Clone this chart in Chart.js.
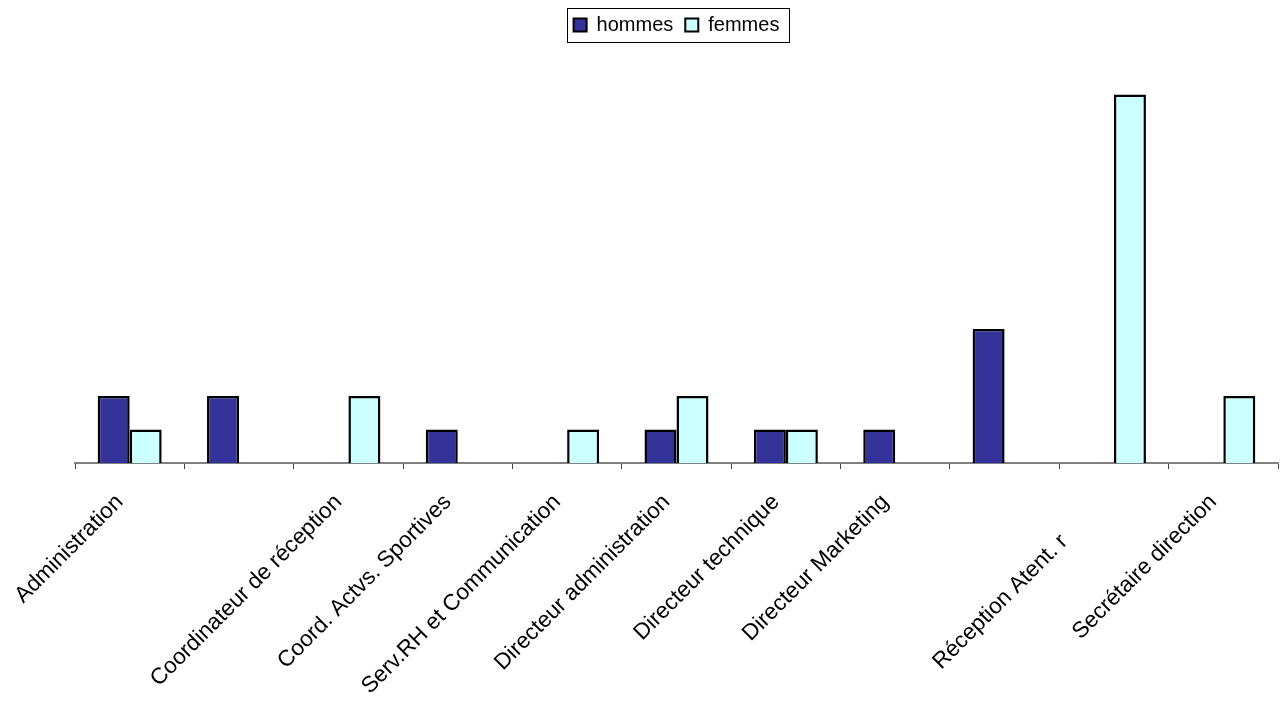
<!DOCTYPE html>
<html>
<head>
<meta charset="utf-8">
<script src="https://cdn.jsdelivr.net/npm/chart.js@4/dist/chart.umd.min.js"></script>
<style>
  html, body { margin: 0; padding: 0; background: #ffffff; }
  #wrap { width: 1287px; height: 702px; position: relative; }
</style>
</head>
<body>
<div id="wrap"><canvas id="chart"></canvas></div>
<script>
// Postes (catégories) et effectifs par sexe
const categories = [
  'Administration',
  '',
  'Coordinateur de réception',
  'Coord. Actvs. Sportives',
  'Serv.RH et Communication',
  'Directeur administration',
  'Directeur technique',
  'Directeur Marketing',
  '',
  'Réception Atent. r',
  'Secrétaire direction'
];
const hommes = [2, 2, 0, 1, 0, 1, 1, 1, 4, 0, 0];
const femmes = [1, 0, 2, 0, 1, 2, 1, 0, 0, 11, 2];
const seriesNames = ['hommes', 'femmes'];

const FONT = 'Liberation Sans, Arial, sans-serif';

// Cadre noir autour de la légende
const legendFrame = {
  id: 'legendFrame',
  afterDraw(chart) {
    const lg = chart.legend;
    if (!lg || !lg.legendHitBoxes || !lg.legendHitBoxes.length) return;
    const boxes = lg.legendHitBoxes;
    const first = boxes[0], last = boxes[boxes.length - 1];
    const ctx = chart.ctx;
    ctx.save();
    ctx.strokeStyle = '#000000';
    ctx.lineWidth = 1;
    const l = Math.round(first.left - 7) + 0.5;
    const r = Math.round(last.left + last.width + 10) + 0.5;
    const t = Math.round(first.top - 7) + 0.5;
    const b = Math.round(first.top + first.height + 7) + 0.5;
    ctx.strokeRect(l, t, r - l, b - t);
    ctx.restore();
  }
};

new Chart(document.getElementById('chart'), {
  type: 'bar',
  data: {
    labels: categories,
    datasets: [
      {
        label: seriesNames[0],
        data: hommes.map(v => v || null),
        backgroundColor: '#333399',
        borderColor: '#000000',
        borderWidth: 2.5,
        borderSkipped: 'start',
        barPercentage: 1,
        categoryPercentage: 0.585
      },
      {
        label: seriesNames[1],
        data: femmes.map(v => v || null),
        backgroundColor: '#CCFFFF',
        borderColor: '#000000',
        borderWidth: 2.5,
        borderSkipped: 'start',
        barPercentage: 1,
        categoryPercentage: 0.585
      }
    ]
  },
  options: {
    responsive: true,
    maintainAspectRatio: false,
    animation: false,
    layout: { padding: { left: 75, right: 9, top: 3, bottom: 0 } },
    plugins: {
      legend: {
        position: 'top',
        fullSize: false,
        labels: {
          color: '#000000',
          font: { family: FONT, size: 20 },
          boxWidth: 13,
          boxHeight: 13,
          padding: 12,
          generateLabels(chart) {
            return chart.data.datasets.map((ds, i) => ({
              text: ds.label,
              fillStyle: ds.backgroundColor,
              strokeStyle: '#000000',
              lineWidth: 2,
              hidden: false,
              datasetIndex: i
            }));
          }
        }
      },
      // espace vide entre la légende et la zone de tracé
      subtitle: {
        display: true,
        text: '',
        position: 'top',
        fullSize: false,
        weight: 500,
        padding: 0,
        font: { size: 13.3 }
      },
      tooltip: { enabled: false }
    },
    scales: {
      x: {
        offset: true,
        grid: {
          offset: true,
          drawOnChartArea: false,
          drawTicks: true,
          tickLength: 6,
          color: '#444444'
        },
        border: { display: true, color: '#808080', width: 2 },
        ticks: {
          color: '#000000',
          font: { family: FONT, size: 22.5 },
          minRotation: 45,
          maxRotation: 45,
          autoSkip: false,
          padding: 20,
          labelOffset: -10,
          callback(value, index) {
            const t = categories[index];
            return t.startsWith('Réception') ? t + '         ' : t;
          }
        },
        afterFit(scale) { scale.height = 239; }
      },
      y: {
        display: false,
        min: 0,
        max: 12,
        beginAtZero: true
      }
    }
  },
  plugins: [legendFrame]
});
</script>
</body>
</html>
